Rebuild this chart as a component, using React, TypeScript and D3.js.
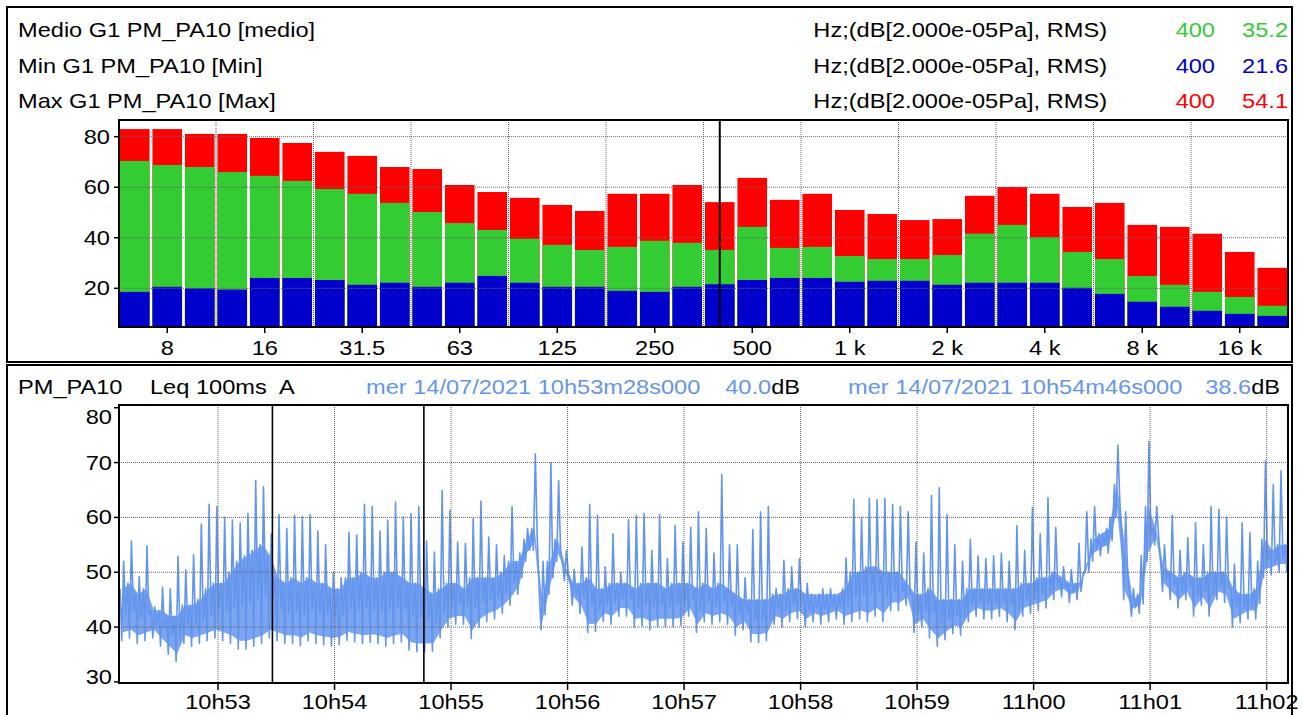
import React from "react";
import * as d3 from "d3";

// ---------- Spectrum (1/3 octave) ----------
const bandLabels = ["6.3","8","10","12.5","16","20","25","31.5","40","50","63","80","100","125","160","200","250","315","400","500","630","800","1k","1.25k","1.6k","2k","2.5k","3.15k","4k","5k","6.3k","8k","10k","12.5k","16k","20k"];
const maxLevels = [83.0, 83.0, 81.1, 81.1, 79.5, 77.5, 74.0, 72.4, 68.0, 67.2, 60.9, 58.1, 55.8, 53.0, 50.6, 57.4, 57.4, 60.9, 54.1, 63.7, 55.0, 57.4, 51.0, 49.4, 47.0, 47.4, 56.6, 60.1, 57.4, 52.2, 53.8, 45.1, 44.3, 41.6, 34.4, 28.1];
const meanLevels = [70.4, 68.8, 68.0, 66.0, 64.5, 62.5, 59.3, 57.4, 53.8, 50.2, 45.8, 43.1, 39.6, 37.2, 35.2, 36.4, 38.8, 38.0, 35.2, 44.3, 36.0, 36.4, 32.8, 31.6, 31.6, 33.2, 41.6, 45.1, 40.3, 34.4, 31.6, 24.9, 21.4, 18.6, 16.6, 13.1];
const minLevels = [18.6, 20.6, 20.0, 19.5, 24.1, 24.1, 23.3, 21.4, 22.2, 20.6, 22.2, 24.9, 22.2, 20.6, 20.6, 19.0, 18.6, 20.6, 21.6, 23.3, 24.1, 24.1, 22.6, 23.0, 23.0, 21.4, 22.2, 22.2, 22.2, 20.2, 17.8, 14.7, 12.7, 11.1, 9.9, 9.1];
const octaveTickBands = ["8","16","31.5","63","125","250","500","1k","2k","4k","8k","16k"];
const octaveTickText = ["8","16","31.5","63","125","250","500","1 k","2 k","4 k","8 k","16 k"];
const octaveGridBands = ["12.5","25","50","100","200","400","800","1.6k","3.15k","6.3k","12.5k"];
const spectrumYTicks = [20, 40, 60, 80];
const cursorBand = "400";
const seriesNames = ["Medio G1 PM_PA10 [medio]", "Min G1 PM_PA10 [Min]", "Max G1 PM_PA10 [Max]"];
const unitText = "Hz;(dB[2.000e-05Pa], RMS)";

// ---------- Time history (Leq 100ms A), envelope per 4 s ----------
const traceStart = "2021-07-14T10:52:09";
const traceEnd = "2021-07-14T11:02:11";
const traceStepSeconds = 4;
const traceLow = [37.5,38,37,37.5,38,36.5,35,33.7,37,36.5,37,37.5,38,37.5,37,36,36,36.5,37,38,37.5,37,37,36.6,37.5,37,36.8,36.5,36.8,37.6,37.3,37,37.2,37,36.5,37,37.3,35.8,35.5,35.5,35.6,38,40,40.5,40.5,37.9,40,41,41.5,42.5,44,46,52,54,39.5,46,52,48.5,44,42.5,39,39.2,41,40.5,42,42,40,40.2,39.5,40,40,40,40.3,42,39,41,40.5,41,40.5,38.5,39.5,37.3,37.2,37.5,40.5,40,41,41.5,40,41,40.5,41,41.5,40.5,41,41.5,41,42,41,43,43,44,39,40,38,36.5,37.7,38.8,38.5,41,42,41.5,41.5,42,41,39.5,42,42.5,43,43.5,45,45.5,44.5,45,50,52,53,53.5,60,45,42,42.5,52,55,46.5,45,43.5,45,42,44,42,45,44.5,40,40.8,41.5,41.5,49,49.5,50,50];
const traceCore = [47,48,46,47,43,43,42,42,44,44,45,47,48,48,50,52,53,54,55,53,49,48,49,48,49,48,48,47,47,49,49,50,49,49,50,50,49,48,48,47,46,47,48,48,47,49,49,49,49,50,52,52,56,58,45,52,56,51,48,48,49,47,47,48,48,48,47,48,48,48,47,48,48,48,47,48,47,48,47,46,45,45,45,45,46,46,47,47,46,46,46,46,46,47,50,50,51,51,50,50,50,48,46,46,47,45,45,45,45,47,47,47,47,47,47,47,48,48,49,49,50,49,48,48,50,56,57,58,66,55,45,46,62,58,51,50,49,50,49,49,50,50,50,47,46,46,47,56,54,55,55];
const traceHigh = [52,55.7,49.2,54.8,43.7,47.3,47,52.9,50.4,53.2,58.8,62.4,62,60,59.5,59,60.7,66.7,65.6,57,60.5,58,60.4,60.1,60.5,57.5,55,50,49,57.3,56.8,62.4,62,57.5,59.5,62.8,60.1,60.7,62,55.7,53.7,64.9,61.3,55.5,55.3,59.8,63,56.4,55,53,62,53.5,58,71.6,52,70,66.7,54,50.5,54.6,62.4,60.4,51,57,50,59.6,60.4,60.7,54,60.5,52.5,58.5,55.5,58.2,61,58,53.5,67.8,55,55,49,57.8,61,62,47,52.2,51,52.5,48,45.8,47,47,46,52.6,63.3,60,63.5,63.2,63.5,62.4,62,61,55.5,53.5,64,65.4,60.5,55,52,56,53,52.5,53,53.5,52,58.5,54,61.8,57,63.6,58.2,51,50.5,55.3,61,62,57,60,73.2,61,47,53,73.9,62,55,60.4,54,56.3,59,55,62,61.5,60,51.5,59,57.2,52,70.3,66,68.5,66];
const levelTicks = [30, 40, 50, 60, 70, 80];
const cursorTimes = ["2021-07-14T10:53:28", "2021-07-14T10:54:46"];
const cursorTexts = ["mer 14/07/2021 10h53m28s000", "mer 14/07/2021 10h54m46s000"];
const cursorLevels = [40.0, 38.6];

const FONT = "'Liberation Sans', Arial, Helvetica, sans-serif";
const FS = 20;
const SX = 1.18;
const GREEN = "#33CC33";
const BLUE = "#0000CC";
const RED = "#FF0000";
const TRACE = "#6495ED";
const GRID = "#666";

function T({ x, y, anchor = "start", fill = "#000", children }: any) {
  return (
    <text transform={`translate(${x},${y}) scale(${SX},1)`} textAnchor={anchor} fill={fill}
      fontSize={FS} fontFamily={FONT}>{children}</text>
  );
}

export default function App() {
  const W = 1303, H = 715;

  // spectrum scales
  const sp = { l: 119, r: 1288, t: 120, b: 327 };
  const xb = d3.scaleBand<string>().domain(bandLabels).range([118.5, 1288.5]).paddingInner(0.09).paddingOuter(0.045);
  const ys = d3.scaleLinear().domain([4.7, 86.6]).range([sp.b, sp.t]);
  const bw = xb.bandwidth();
  const bandCenter = (b: string) => (xb(b) as number) + bw / 2;
  const gridX = (b: string) => (xb(b) as number) - (xb.step() - bw) / 2;
  const ci = bandLabels.indexOf(cursorBand);

  // time history scales
  const tp = { l: 119, r: 1288, t: 405, b: 683 };
  const t0 = new Date(traceStart);
  const t1 = new Date(traceEnd);
  const xt = d3.scaleTime().domain([t0, t1]).range([tp.l, tp.r]);
  const yt = d3.scaleLinear().domain([29.8, 80.5]).range([tp.b, tp.t]);
  const stepMs = traceStepSeconds * 1000;
  const pts: [Date, number][] = [];
  const core: { t: Date; lo: number; hi: number }[] = [];
  traceLow.forEach((lo, i) => {
    const base = t0.getTime() + i * stepMs;
    pts.push([new Date(base + 0.15 * stepMs), traceCore[i]]);
    pts.push([new Date(base + 0.35 * stepMs), lo]);
    pts.push([new Date(base + 0.6 * stepMs), traceHigh[i]]);
    pts.push([new Date(base + 0.85 * stepMs), (lo + traceCore[i]) / 2]);
    core.push({ t: new Date(base + 0.5 * stepMs), lo: lo + 1.5, hi: traceCore[i] });
  });
  const line = d3.line<[Date, number]>().x(d => xt(d[0])).y(d => yt(d[1]));
  const area = d3.area<{ t: Date; lo: number; hi: number }>().x(d => xt(d.t)).y0(d => yt(d.lo)).y1(d => yt(d.hi));
  const minuteTicks = xt.ticks(d3.timeMinute.every(1) as any);
  const fmt = d3.timeFormat("%Hh%M");

  const headerRows = [
    { name: seriesNames[0], color: GREEN, v: meanLevels[ci] },
    { name: seriesNames[1], color: BLUE, v: minLevels[ci] },
    { name: seriesNames[2], color: RED, v: maxLevels[ci] },
  ];

  return (
    <svg width={W} height={H} style={{ position: "absolute", left: 0, top: 0, display: "block", background: "#fff" }}>
      <rect x={0} y={0} width={W} height={H} fill="#fff" />
      {/* panel frames */}
      <rect x={7} y={7} width={1285} height={355} fill="none" stroke="#000" strokeWidth={2} />
      <rect x={7} y={365} width={1285} height={362} fill="none" stroke="#000" strokeWidth={2} />

      {/* spectrum header */}
      {headerRows.map((r, i) => (
        <g key={i}>
          <T x={18} y={37 + i * 35.5}>{r.name}</T>
          <T x={1107} y={37 + i * 35.5} anchor="end">{unitText}</T>
          <T x={1215} y={37 + i * 35.5} anchor="end" fill={r.color}>{cursorBand}</T>
          <T x={1288} y={37 + i * 35.5} anchor="end" fill={r.color}>{r.v.toFixed(1)}</T>
        </g>
      ))}

      {/* spectrum bars */}
      {bandLabels.map((b, i) => (
        <g key={b}>
          <rect x={xb(b)} y={ys(maxLevels[i])} width={bw} height={sp.b - ys(maxLevels[i])} fill={RED} />
          <rect x={xb(b)} y={ys(meanLevels[i])} width={bw} height={sp.b - ys(meanLevels[i])} fill={GREEN} />
          <rect x={xb(b)} y={ys(minLevels[i])} width={bw} height={sp.b - ys(minLevels[i])} fill={BLUE} />
        </g>
      ))}
      {/* spectrum grid */}
      {spectrumYTicks.map(v => (
        <line key={v} x1={sp.l} x2={sp.r} y1={ys(v)} y2={ys(v)} stroke={GRID} strokeDasharray="1 1" strokeWidth={1} />
      ))}
      {octaveGridBands.map(b => (
        <line key={b} x1={gridX(b)} x2={gridX(b)} y1={sp.t} y2={sp.b} stroke={GRID} strokeDasharray="1 1" strokeWidth={1} />
      ))}
      <rect x={sp.l} y={sp.t} width={sp.r - sp.l} height={sp.b - sp.t} fill="none" stroke="#000" strokeWidth={2} />
      <line x1={bandCenter(cursorBand)} x2={bandCenter(cursorBand)} y1={sp.t} y2={sp.b} stroke="#000" strokeWidth={2} />
      {spectrumYTicks.map(v => (
        <g key={v}>
          <line x1={sp.l - 5} x2={sp.l} y1={ys(v)} y2={ys(v)} stroke="#000" strokeWidth={1.5} />
          <T x={110} y={ys(v) + 7} anchor="end">{String(v)}</T>
        </g>
      ))}
      {octaveTickBands.map((b, i) => (
        <g key={b}>
          <line x1={bandCenter(b)} x2={bandCenter(b)} y1={sp.b} y2={sp.b + 6} stroke="#000" strokeWidth={1.5} />
          <T x={bandCenter(b)} y={355} anchor="middle">{octaveTickText[i]}</T>
        </g>
      ))}

      {/* time history header */}
      <T x={18} y={394}>PM_PA10</T>
      <T x={150} y={394}>Leq 100ms</T>
      <T x={279} y={394}>A</T>
      <T x={366} y={394} fill={TRACE}>{cursorTexts[0]}</T>
      <text transform={`translate(800,394) scale(${SX},1)`} textAnchor="end" fontSize={FS} fontFamily={FONT}>
        <tspan fill={TRACE}>{cursorLevels[0].toFixed(1)}</tspan><tspan fill="#000">dB</tspan>
      </text>
      <T x={848} y={394} fill={TRACE}>{cursorTexts[1]}</T>
      <text transform={`translate(1280,394) scale(${SX},1)`} textAnchor="end" fontSize={FS} fontFamily={FONT}>
        <tspan fill={TRACE}>{cursorLevels[1].toFixed(1)}</tspan><tspan fill="#000">dB</tspan>
      </text>

      {/* time history plot */}
      <defs>
        <clipPath id="tclip"><rect x={tp.l} y={tp.t} width={tp.r - tp.l} height={tp.b - tp.t} /></clipPath>
      </defs>
      <g clipPath="url(#tclip)">
        <path d={area(core) || ""} fill={TRACE} opacity={0.85} />
        <path d={line(pts) || ""} fill="none" stroke={TRACE} strokeWidth={1.6} strokeLinejoin="round" />
      </g>
      {levelTicks.filter(v => v > 30 && v < 80).map(v => (
        <line key={v} x1={tp.l} x2={tp.r} y1={yt(v)} y2={yt(v)} stroke={GRID} strokeDasharray="1 1" strokeWidth={1} />
      ))}
      {minuteTicks.map(d => (
        <line key={+d} x1={xt(d)} x2={xt(d)} y1={tp.t} y2={tp.b} stroke={GRID} strokeDasharray="1 1" strokeWidth={1} />
      ))}
      {cursorTimes.map(c => (
        <line key={c} x1={xt(new Date(c))} x2={xt(new Date(c))} y1={tp.t} y2={tp.b} stroke="#000" strokeWidth={1.6} />
      ))}
      <rect x={tp.l} y={tp.t} width={tp.r - tp.l} height={tp.b - tp.t} fill="none" stroke="#000" strokeWidth={2} />
      {levelTicks.map(v => {
        const y = Math.min(Math.max(yt(v), tp.t + 12), tp.b - 6);
        return (
          <g key={v}>
            <line x1={tp.l - 5} x2={tp.l} y1={yt(v)} y2={yt(v)} stroke="#000" strokeWidth={1.5} />
            <T x={112} y={y + 7} anchor="end">{String(v)}</T>
          </g>
        );
      })}
      {minuteTicks.map(d => (
        <g key={+d}>
          <line x1={xt(d)} x2={xt(d)} y1={tp.b} y2={tp.b + 7} stroke="#000" strokeWidth={1.5} />
          <T x={xt(d)} y={709} anchor="middle">{fmt(d)}</T>
        </g>
      ))}
    </svg>
  );
}
